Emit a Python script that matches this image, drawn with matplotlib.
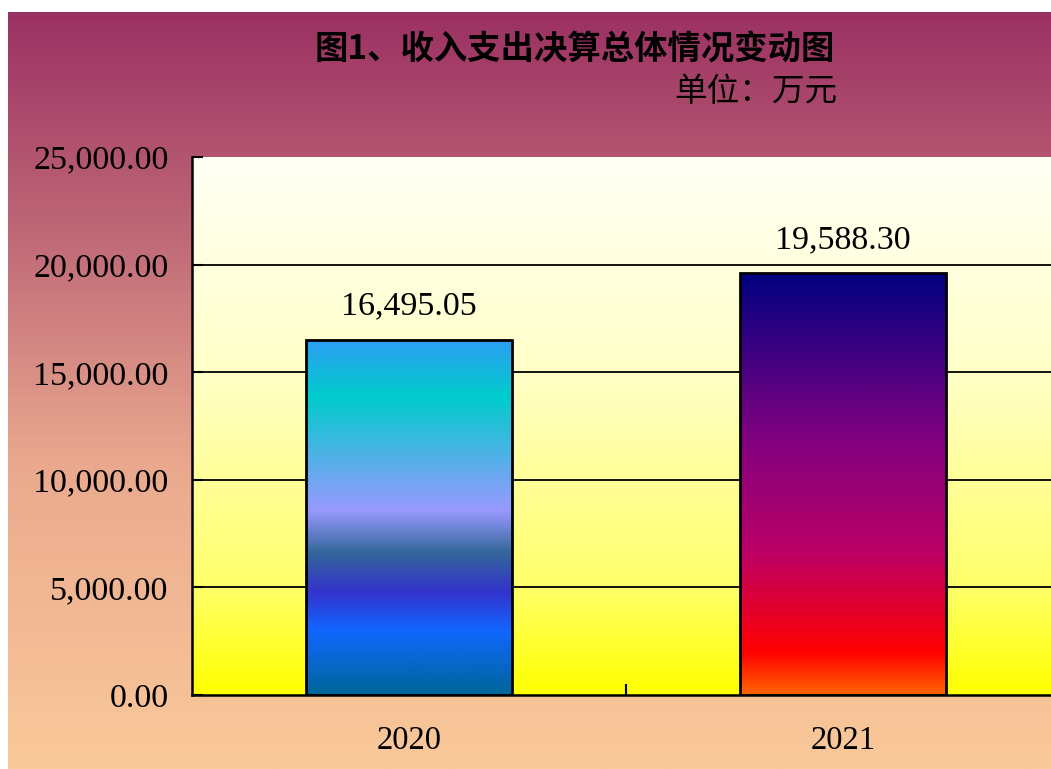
import numpy as np
import matplotlib.pyplot as plt
from matplotlib.colors import LinearSegmentedColormap

# data
years = ['2020', '2021']
values = [16495.05, 19588.30]
yticks = [0, 5000, 10000, 15000, 20000, 25000]

title = '图1、收入支出决算总体情况变动图'
unit = '单位：万元'

cjk = ['Noto Sans CJK SC', 'DejaVu Sans']
num_font = 'Liberation Serif'

# gradient fills (stop position, colour), top -> bottom
fig_grad = [(0.0, '#9b3163'), (0.3, '#c06a78'), (0.6, '#eaa98e'), (1.0, '#fac99a')]
plot_grad = [(0.0, '#fffff6'), (0.4, '#ffffc8'), (0.8, '#ffff6a'), (1.0, '#ffff00')]
bar_grads = [
    [(0.0, '#2c9ff2'), (0.16, '#00cccc'), (0.48, '#9999ff'), (0.6, '#336699'),
     (0.71, '#3333cc'), (0.82, '#1166ff'), (1.0, '#006699')],
    [(0.0, '#000080'), (0.39, '#800080'), (0.66, '#bb0066'), (0.9, '#ff0000'),
     (1.0, '#ff6600')],
]


def vgrad(stops):
    return LinearSegmentedColormap.from_list('g', stops)


col = np.linspace(0, 1, 256).reshape(-1, 1)

fig = plt.figure(figsize=(10.51, 7.69), dpi=100)

# figure background (white strip left and top)
bg = fig.add_axes([8 / 1051, 0, 1 - 8 / 1051, 757 / 769], zorder=-1)
bg.imshow(col, cmap=vgrad(fig_grad), aspect='auto', origin='upper',
          extent=(0, 1, 0, 1))
bg.set_axis_off()

ax = fig.add_axes([192 / 1051, 74 / 769, 868 / 1051, 538 / 769])
ax.set_facecolor('none')
ax.imshow(col, cmap=vgrad(plot_grad), aspect='auto', origin='upper',
          extent=(0, 1, 0, 1), transform=ax.transAxes, zorder=0)

x = np.arange(len(years))
width = 0.475
bars = ax.bar(x, values, width=width, facecolor='none', edgecolor='black',
              linewidth=2, zorder=3)
for b, stops in zip(bars, bar_grads):
    im = ax.imshow(col, cmap=vgrad(stops), aspect='auto', origin='upper',
                   extent=(b.get_x(), b.get_x() + b.get_width(), 0, b.get_height()),
                   zorder=2)
    im.set_clip_path(b)

for xi, v in zip(x, values):
    ax.text(xi, v + 850, f'{v:,.2f}', ha='center', va='bottom',
            fontsize=24.5, family=num_font)

ax.set_xlim(-0.5, 1.5)
ax.set_ylim(0, 25000)
ax.set_yticks(yticks)
ax.set_yticklabels([f'{t:,.2f}' for t in yticks], family=num_font, fontsize=24.5)
ax.set_xticks(x)
ax.set_xticklabels(years, family=num_font, fontsize=23.5)
ax.set_xticks([0.5], minor=True)
ax.tick_params(axis='x', which='major', length=0, pad=22)
ax.tick_params(axis='x', which='minor', direction='in', length=8, width=1.5)
ax.tick_params(axis='y', direction='in', length=8, width=1.5, pad=17)

ax.yaxis.grid(True, color='black', linewidth=1.3)
ax.set_axisbelow(True)
for gl, t in zip(ax.get_ygridlines(), yticks):
    if t in (0, 25000):
        gl.set_visible(False)

ax.spines['top'].set_visible(False)
ax.spines['right'].set_visible(False)
ax.spines['left'].set_linewidth(1.8)
ax.spines['bottom'].set_linewidth(1.8)

fig.text(0.547, 0.935, title, ha='center', va='center', fontsize=24,
         fontweight='bold', family=cjk)
fig.text(0.797, 0.880, unit, ha='right', va='center', fontsize=23.5, family=cjk)

fig.savefig('out.png', dpi=100)
